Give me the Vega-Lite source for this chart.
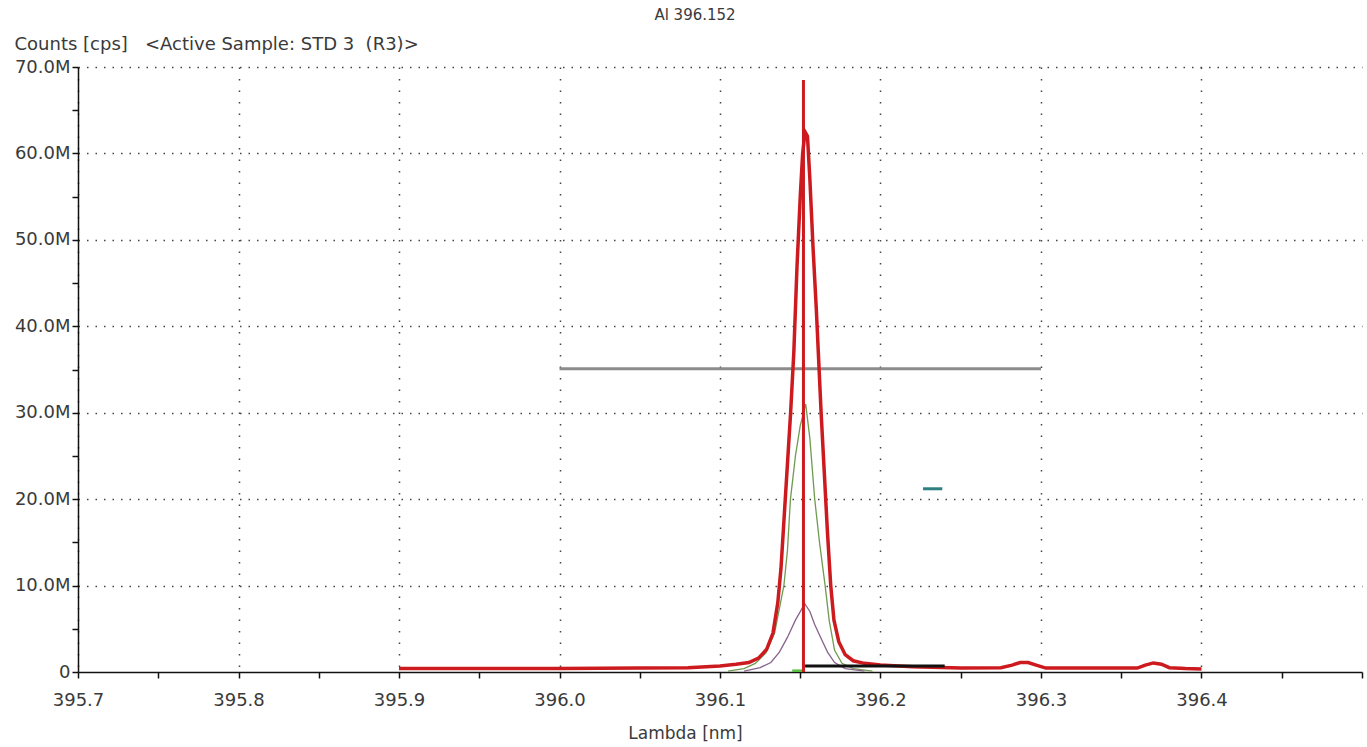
{
  "$schema": "https://vega.github.io/schema/vega-lite/v6.json",
  "width": 1284,
  "height": 605,
  "autosize": {"type": "none"},
  "padding": {"left": 78, "top": 67, "right": 5, "bottom": 75},
  "background": "white",
  "config": {
    "view": {"stroke": null},
    "font": "DejaVu Sans"
  },
  "title": {
    "text": "Al 396.152",
    "anchor": "middle",
    "frame": "group",
    "dx": -25,
    "offset": -3,
    "baseline": "bottom",
    "fontSize": 15,
    "fontWeight": "normal",
    "color": "#3a3a3a",
    "font": "DejaVu Sans"
  },
  "datasets": {
    "peak": [
      {"x": 395.9, "y": 400000}, {"x": 396.0, "y": 400000}, {"x": 396.05, "y": 450000}, {"x": 396.08, "y": 500000},
      {"x": 396.1, "y": 700000}, {"x": 396.11, "y": 900000}, {"x": 396.118, "y": 1100000}, {"x": 396.124, "y": 1600000},
      {"x": 396.129, "y": 2600000}, {"x": 396.133, "y": 4500000}, {"x": 396.136, "y": 8000000}, {"x": 396.138, "y": 12000000},
      {"x": 396.14, "y": 18000000}, {"x": 396.142, "y": 24000000}, {"x": 396.144, "y": 30000000}, {"x": 396.146, "y": 37000000},
      {"x": 396.148, "y": 47000000}, {"x": 396.15, "y": 55000000}, {"x": 396.1515, "y": 60000000}, {"x": 396.153, "y": 62500000},
      {"x": 396.1545, "y": 62000000}, {"x": 396.156, "y": 57000000}, {"x": 396.158, "y": 49000000}, {"x": 396.16, "y": 42000000},
      {"x": 396.1615, "y": 36000000}, {"x": 396.163, "y": 30000000}, {"x": 396.165, "y": 23000000}, {"x": 396.167, "y": 16000000},
      {"x": 396.169, "y": 10000000}, {"x": 396.171, "y": 6000000}, {"x": 396.174, "y": 3500000}, {"x": 396.178, "y": 2000000},
      {"x": 396.183, "y": 1300000}, {"x": 396.19, "y": 1000000}, {"x": 396.2, "y": 800000}, {"x": 396.22, "y": 600000},
      {"x": 396.25, "y": 450000}, {"x": 396.275, "y": 500000}, {"x": 396.282, "y": 800000}, {"x": 396.287, "y": 1100000},
      {"x": 396.292, "y": 1100000}, {"x": 396.297, "y": 800000}, {"x": 396.303, "y": 450000}, {"x": 396.36, "y": 450000},
      {"x": 396.365, "y": 800000}, {"x": 396.37, "y": 1050000}, {"x": 396.375, "y": 900000}, {"x": 396.38, "y": 500000},
      {"x": 396.39, "y": 400000}, {"x": 396.4, "y": 350000}
    ],
    "green": [
      {"x": 396.105, "y": 100000}, {"x": 396.115, "y": 400000}, {"x": 396.122, "y": 1000000}, {"x": 396.1286, "y": 2200000},
      {"x": 396.134, "y": 4500000}, {"x": 396.1398, "y": 10000000}, {"x": 396.142, "y": 14000000}, {"x": 396.1439, "y": 20000000},
      {"x": 396.147, "y": 25000000}, {"x": 396.15, "y": 28500000}, {"x": 396.1534, "y": 31000000}, {"x": 396.156, "y": 27000000},
      {"x": 396.159, "y": 20000000}, {"x": 396.162, "y": 15000000}, {"x": 396.1655, "y": 10000000}, {"x": 396.168, "y": 6000000},
      {"x": 396.1714, "y": 2500000}, {"x": 396.176, "y": 1000000}, {"x": 396.183, "y": 400000}, {"x": 396.195, "y": 100000}
    ],
    "purple": [
      {"x": 396.115, "y": 100000}, {"x": 396.125, "y": 500000}, {"x": 396.1317, "y": 1100000}, {"x": 396.137, "y": 2300000},
      {"x": 396.142, "y": 4000000}, {"x": 396.147, "y": 6000000}, {"x": 396.1528, "y": 7900000}, {"x": 396.156, "y": 7000000},
      {"x": 396.159, "y": 5500000}, {"x": 396.1627, "y": 4000000}, {"x": 396.167, "y": 2300000}, {"x": 396.1714, "y": 1100000},
      {"x": 396.178, "y": 400000}, {"x": 396.19, "y": 100000}
    ],
    "marker": [{"x": 396.152, "y": 0}, {"x": 396.152, "y": 68500000}],
    "window": [{"x": 396.0, "y": 35100000}, {"x": 396.3, "y": 35100000}],
    "bkg": [{"x": 396.153, "y": 700000}, {"x": 396.24, "y": 700000}],
    "bkgLeft": [{"x": 396.145, "y": 150000}, {"x": 396.153, "y": 150000}],
    "dash": [{"x": 396.2265, "y": 21200000}, {"x": 396.2385, "y": 21200000}]
  },
  "encoding": {
    "x": {
      "field": "x",
      "type": "quantitative",
      "scale": {"domain": [395.7, 396.5], "nice": false, "zero": false},
      "axis": {
        "values": [395.7, 395.75, 395.8, 395.85, 395.9, 395.95, 396.0, 396.05, 396.1, 396.15, 396.2, 396.25, 396.3, 396.35, 396.4, 396.45, 396.5],
        "labelExpr": "(abs(datum.value*10 - round(datum.value*10)) < 0.001 && datum.value < 396.45) ? format(datum.value, '.1f') : ''",
        "title": "Lambda [nm]",
        "titleX": 607,
        "titleY": 61,
        "titleAnchor": "middle",
        "titleBaseline": "middle",
        "titleFontSize": 17,
        "titleFontWeight": "normal",
        "titleColor": "#3a3a3a",
        "labelFontSize": 18,
        "labelColor": "#3a3a3a",
        "labelPadding": 13,
        "labelFlush": false,
        "labelOverlap": false,
        "tickSize": 6,
        "tickColor": "#111111",
        "tickWidth": 1.5,
        "domainColor": "#111111",
        "domainWidth": 1.5,
        "grid": true,
        "gridColor": "#444444",
        "gridDash": [1.5, 10],
        "gridWidth": 1.5,
        "gridOpacity": {"condition": {"test": "abs(datum.value*10 - round(datum.value*10)) < 0.001 && datum.value < 396.45", "value": 1}, "value": 0}
      }
    },
    "y": {
      "field": "y",
      "type": "quantitative",
      "scale": {"domain": [0, 70000000], "nice": false},
      "axis": {
        "values": [0, 5000000, 10000000, 15000000, 20000000, 25000000, 30000000, 35000000, 40000000, 45000000, 50000000, 55000000, 60000000, 65000000, 70000000],
        "labelExpr": "datum.value % 10000000 != 0 ? '' : (datum.value == 0 ? '0' : format(datum.value/1000000, '.1f') + 'M')",
        "title": "Counts [cps]\u00a0\u00a0\u00a0<Active Sample: STD 3\u00a0\u00a0(R3)>",
        "titleAngle": 0,
        "titleX": -64,
        "titleY": -23,
        "titleAlign": "left",
        "titleBaseline": "middle",
        "titleFontSize": 18,
        "titleFontWeight": "normal",
        "titleColor": "#3a3a3a",
        "labelFontSize": 18,
        "labelColor": "#3a3a3a",
        "labelPadding": 2,
        "labelOverlap": false,
        "tickSize": 6,
        "tickColor": "#111111",
        "tickWidth": 1.5,
        "domainColor": "#111111",
        "domainWidth": 1.5,
        "grid": true,
        "gridColor": "#444444",
        "gridDash": [1.5, 7],
        "gridWidth": 1.5,
        "gridOpacity": {"condition": {"test": "datum.value % 10000000 == 0 && datum.value > 0", "value": 1}, "value": 0}
      }
    }
  },
  "layer": [
    {"data": {"name": "window"}, "mark": {"type": "line", "color": "#8c8c8c", "strokeWidth": 3, "clip": true}},
    {"data": {"name": "green"}, "mark": {"type": "line", "color": "#6f9a50", "strokeWidth": 1.3, "clip": true}},
    {"data": {"name": "purple"}, "mark": {"type": "line", "color": "#86638c", "strokeWidth": 1.3, "clip": true}},
    {"data": {"name": "peak"}, "mark": {"type": "line", "color": "#cc1a1f", "strokeWidth": 3.5, "clip": true}},
    {"data": {"name": "bkgLeft"}, "mark": {"type": "line", "color": "#55c040", "strokeWidth": 2.5, "clip": true}},
    {"data": {"name": "bkg"}, "mark": {"type": "line", "color": "#111111", "strokeWidth": 3, "clip": true}},
    {"data": {"name": "marker"}, "mark": {"type": "line", "color": "#cc1a1f", "strokeWidth": 3, "clip": true}},
    {"data": {"name": "dash"}, "mark": {"type": "line", "color": "#2f7f80", "strokeWidth": 3, "clip": true}}
  ]
}
